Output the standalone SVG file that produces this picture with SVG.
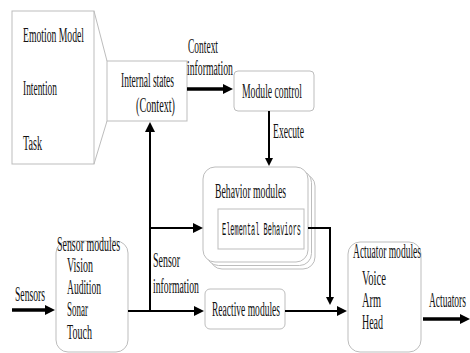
<svg xmlns="http://www.w3.org/2000/svg" width="470" height="353" viewBox="0 0 470 353">
<style>
.box{fill:#fff;stroke:#bdbdbd;stroke-width:1}
.t{font-family:"Liberation Serif","Times New Roman",serif;font-size:20px;fill:#111}
.m{font-family:"Liberation Mono","Courier New",monospace;font-size:18px;fill:#111}
.c{fill:none;stroke:#000;stroke-width:2}
.k{fill:none;stroke:#000;stroke-width:3.5}
</style>
<defs>
<marker id="ah" markerUnits="userSpaceOnUse" markerWidth="10" markerHeight="10" refX="2" refY="5" orient="auto">
<path d="M0,0 L10,5 L0,10 z" fill="#000"/>
</marker>
<marker id="ahs" markerUnits="userSpaceOnUse" markerWidth="8" markerHeight="10" refX="2" refY="5" orient="auto">
<path d="M0,1 L8,5 L0,9 z" fill="#000"/>
</marker>
</defs>
<rect width="470" height="353" fill="#fff"/>

<g id="emotion">
<rect class="box" x="12" y="11" width="82" height="153"/>
<line x1="94" y1="11" x2="107" y2="61" stroke="#bdbdbd"/>
<line x1="94" y1="164" x2="107" y2="121" stroke="#bdbdbd"/>
<text class="t" x="23" y="42" textLength="61" lengthAdjust="spacingAndGlyphs">Emotion Model</text>
<text class="t" x="23" y="95" textLength="34" lengthAdjust="spacingAndGlyphs">Intention</text>
<text class="t" x="23" y="150" textLength="19" lengthAdjust="spacingAndGlyphs">Task</text>
</g>

<g id="internal">
<rect class="box" x="107" y="61" width="80" height="60"/>
<text class="t" x="121" y="87" textLength="53" lengthAdjust="spacingAndGlyphs">Internal states</text>
<text class="t" x="136" y="112" textLength="39" lengthAdjust="spacingAndGlyphs">(Context)</text>
</g>

<g id="module-control">
<rect class="box" x="234" y="71" width="80" height="40" rx="4"/>
<text class="t" x="242" y="98" textLength="60" lengthAdjust="spacingAndGlyphs">Module control</text>
</g>

<g id="behavior">
<rect class="box" x="210" y="174" width="105" height="95" rx="12"/>
<rect class="box" x="206.5" y="170.5" width="105" height="95" rx="12"/>
<rect class="box" x="203" y="167" width="105" height="95" rx="12"/>
<text class="t" x="215" y="198" textLength="71" lengthAdjust="spacingAndGlyphs">Behavior modules</text>
<rect class="box" x="218" y="209" width="86" height="40"/>
<text class="m" x="222" y="235" textLength="79" lengthAdjust="spacingAndGlyphs">Elemental Behaviors</text>
</g>

<g id="sensor-modules">
<rect class="box" x="56" y="241" width="72" height="111" rx="12"/>
<text class="t" x="57" y="251" textLength="63" lengthAdjust="spacingAndGlyphs">Sensor modules</text>
<text class="t" x="67" y="272" textLength="26" lengthAdjust="spacingAndGlyphs">Vision</text>
<text class="t" x="67" y="294" textLength="34" lengthAdjust="spacingAndGlyphs">Audition</text>
<text class="t" x="67" y="316" textLength="21" lengthAdjust="spacingAndGlyphs">Sonar</text>
<text class="t" x="67" y="339" textLength="25" lengthAdjust="spacingAndGlyphs">Touch</text>
</g>

<g id="reactive">
<rect class="box" x="205" y="289" width="80" height="40" rx="5"/>
<text class="t" x="212" y="316" textLength="68" lengthAdjust="spacingAndGlyphs">Reactive modules</text>
</g>

<g id="actuator-modules">
<rect class="box" x="348" y="242" width="73" height="110" rx="12"/>
<text class="t" x="353" y="258" textLength="68" lengthAdjust="spacingAndGlyphs">Actuator modules</text>
<text class="t" x="362" y="285" textLength="24" lengthAdjust="spacingAndGlyphs">Voice</text>
<text class="t" x="362" y="307" textLength="19" lengthAdjust="spacingAndGlyphs">Arm</text>
<text class="t" x="362" y="329" textLength="21" lengthAdjust="spacingAndGlyphs">Head</text>
</g>

<g id="connectors">
<line class="k" x1="187" y1="89" x2="225" y2="89" marker-end="url(#ah)"/>
<text class="t" x="188" y="53" textLength="30" lengthAdjust="spacingAndGlyphs">Context</text>
<text class="t" x="187" y="75" textLength="46" lengthAdjust="spacingAndGlyphs">information</text>

<line class="c" x1="269" y1="111" x2="269" y2="160" stroke-width="1.5" marker-end="url(#ahs)"/>
<text class="t" x="273" y="138" textLength="31" lengthAdjust="spacingAndGlyphs">Execute</text>

<line class="k" x1="12" y1="310" x2="47" y2="310" stroke-width="3" marker-end="url(#ah)"/>
<text class="t" x="15" y="301" textLength="30" lengthAdjust="spacingAndGlyphs">Sensors</text>

<line class="c" x1="128" y1="311" x2="196" y2="311" marker-end="url(#ah)"/>
<line class="c" x1="285" y1="311" x2="339" y2="311" marker-end="url(#ah)"/>
<line class="c" x1="150" y1="312" x2="150" y2="130" marker-end="url(#ah)"/>
<line class="c" x1="149" y1="228" x2="195" y2="228" marker-end="url(#ah)"/>
<text class="t" x="153" y="267" textLength="27" lengthAdjust="spacingAndGlyphs">Sensor</text>
<text class="t" x="153" y="293" textLength="46" lengthAdjust="spacingAndGlyphs">information</text>

<polyline class="c" points="308,228 330,228 330,299" marker-end="url(#ahs)"/>

<line class="k" x1="423" y1="319" x2="462" y2="319" stroke-width="3" marker-end="url(#ah)"/>
<text class="t" x="429" y="307" textLength="37" lengthAdjust="spacingAndGlyphs">Actuators</text>
</g>
</svg>
